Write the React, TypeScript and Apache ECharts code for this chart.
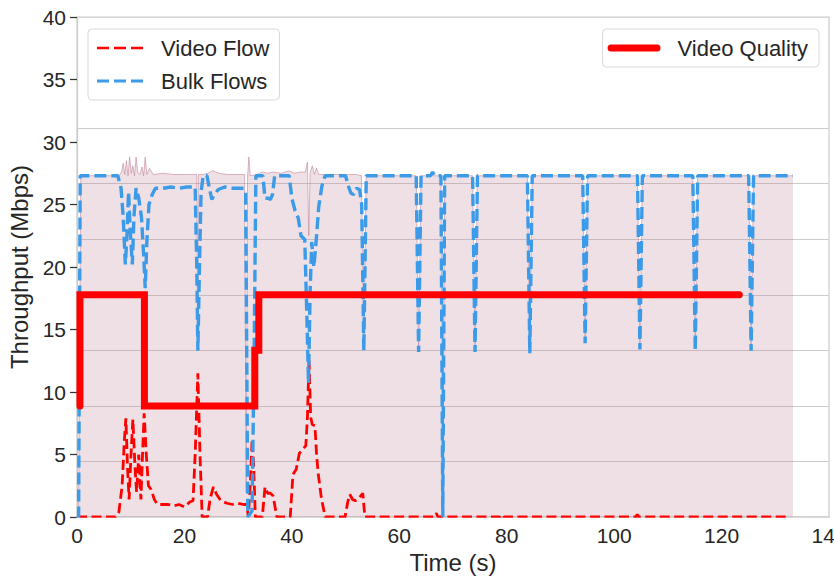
import React, { useEffect, useRef } from 'react';
import * as echarts from 'echarts';

// ---- Data ----
const bulkT = [0, 0.3, 0.6, 7.6, 8.2, 8.6, 9.0, 9.3, 9.6, 9.9, 10.3, 10.6, 11.0, 11.5, 12.0, 12.4, 12.7, 13.0, 13.4, 14.0, 14.6, 16.0, 17.5, 19.0, 20.5, 22.0, 22.3, 22.5, 22.8, 23.1, 23.5, 24.2, 24.6, 25.1, 25.6, 26.3, 27.5, 29.0, 31.0, 31.4, 31.6, 31.8, 32.6, 33.0, 33.3, 34.6, 35.0, 35.6, 36.0, 36.4, 36.8, 39.5, 40.0, 40.6, 41.2, 41.7, 42.4, 42.8, 43.1, 43.4, 43.7, 44.1, 44.6, 45.0, 45.6, 46.2, 50.0, 50.5, 51.0, 51.5, 52.0, 52.6, 53.0, 53.4, 53.85, 63.15, 63.6, 64.05, 65.8, 66.2, 66.6, 67.75, 68.1, 68.45, 73.65, 74.1, 74.55, 83.85, 84.3, 84.75, 94.15, 94.6, 95.05, 104.35, 104.8, 105.25, 114.65, 115.1, 115.55, 125.05, 125.5, 125.95, 133.3];
const bulkV = [0, 0, 27.3, 27.3, 26.3, 24.0, 20.2, 22.5, 26.0, 23.0, 20.2, 24.0, 26.3, 25.5, 24.0, 21.0, 18.3, 22.0, 25.0, 25.8, 26.3, 26.3, 26.4, 26.3, 26.4, 26.4, 20.0, 13.3, 20.0, 26.0, 27.3, 27.3, 26.4, 25.4, 25.8, 26.2, 26.4, 26.3, 26.3, 26.0, 13.0, 0, 0.5, 14.0, 27.3, 27.3, 25.5, 25.5, 25.4, 25.8, 27.3, 27.3, 25.5, 24.5, 23.9, 22.5, 22.2, 16.0, 10.7, 18.0, 22.0, 20.0, 22.5, 24.8, 26.5, 27.3, 27.3, 26.5, 25.9, 25.8, 26.3, 26.2, 25.0, 13.3, 27.3, 27.3, 13.2, 27.3, 27.3, 27.6, 27.3, 27.3, 0, 27.3, 27.3, 13.2, 27.3, 27.3, 13.1, 27.3, 27.3, 13.9, 27.3, 27.3, 13.4, 27.3, 27.3, 13.3, 27.3, 27.3, 13.3, 27.3, 27.3];

const videoT = [0, 7.2, 7.8, 8.4, 8.8, 9.1, 9.4, 9.7, 10.0, 10.4, 10.8, 11.1, 11.5, 11.9, 12.2, 12.5, 12.9, 13.3, 13.8, 14.4, 15, 16, 17, 18, 19, 20, 21, 21.6, 22.0, 22.5, 22.9, 23.3, 24.3, 24.8, 25.4, 26.0, 26.8, 27.9, 29, 30, 31, 31.6, 31.9, 32.3, 32.6, 32.9, 33.2, 34.5, 35.0, 35.5, 36.0, 36.5, 37.2, 39.7, 40.2, 40.8, 41.4, 42.0, 42.6, 42.9, 43.2, 43.5, 43.8, 44.3, 44.6, 44.9, 45.5, 46.2, 49.9, 50.4, 50.8, 51.3, 51.8, 52.5, 53.2, 53.6, 66.5, 66.9, 67.2, 78.8, 79.2, 79.5, 104.0, 104.3, 104.6, 132.2];
const videoV = [0, 0, 0.4, 2.5, 6.0, 7.9, 4.0, 1.4, 4.5, 7.8, 4.0, 2.0, 5.0, 1.4, 5.0, 8.3, 5.0, 2.5, 2.2, 1.4, 1.0, 1.0, 1.0, 0.9, 1.0, 0.8, 1.2, 1.3, 5.0, 11.5, 5.0, 0, 0, 1.5, 2.4, 1.8, 1.3, 1.1, 1.0, 1.1, 1.0, 1.0, 0, 3.0, 6.2, 4.0, 0, 0, 2.4, 1.9, 1.9, 1.7, 0, 0, 3.4, 3.8, 5.1, 5.4, 5.7, 8.0, 12.5, 8.0, 7.4, 7.3, 5.0, 3.5, 1.5, 0, 0, 1.2, 1.8, 1.4, 1.3, 1.5, 1.9, 0, 0, 0.3, 0, 0, 0.2, 0, 0, 0.2, 0, 0];

const totalT = [0, 0.3, 0.7, 7.8, 8.3, 8.6, 8.9, 9.2, 9.5, 9.8, 10.1, 10.4, 10.7, 11.0, 11.3, 11.7, 12.1, 12.4, 12.7, 13.0, 13.5, 14.2, 16.0, 18.0, 20.0, 22.3, 22.45, 22.6, 23.5, 24.4, 25.2, 26.5, 28.0, 31.2, 31.5, 31.75, 32.0, 32.25, 33.5, 34.5, 35.5, 36.5, 38.0, 39.5, 40.5, 41.5, 42.5, 42.9, 43.15, 43.4, 43.8, 44.2, 44.6, 45.0, 46.5, 50.0, 52.0, 52.95, 53.4, 53.85, 63.15, 63.6, 64.05, 67.75, 68.1, 68.45, 73.65, 74.1, 74.55, 83.85, 84.3, 84.75, 94.15, 94.6, 95.05, 104.35, 104.8, 105.25, 114.65, 115.1, 115.55, 125.05, 125.5, 125.95, 133.3];
const totalV = [0, 0, 27.3, 27.3, 27.6, 28.3, 27.4, 28.5, 27.3, 28.8, 27.5, 28.1, 27.3, 28.8, 27.6, 27.4, 28.0, 27.3, 28.8, 27.4, 27.9, 27.4, 27.5, 27.4, 27.4, 27.4, 13.5, 27.4, 27.4, 27.5, 27.7, 27.5, 27.4, 27.4, 2.0, 27.2, 28.8, 27.3, 27.4, 27.6, 27.5, 27.6, 27.5, 27.7, 27.5, 27.6, 27.6, 28.4, 22.5, 27.5, 28.1, 27.4, 27.9, 27.4, 27.4, 27.4, 27.4, 27.3, 13.5, 27.3, 27.3, 13.4, 27.3, 27.3, 0.3, 27.3, 27.3, 13.4, 27.3, 27.3, 13.3, 27.3, 27.3, 14.1, 27.3, 27.3, 13.6, 27.3, 27.3, 13.5, 27.3, 27.3, 13.5, 27.3, 27.3];

const qualityT = [0.55, 0.55, 12.55, 12.55, 33.1, 33.1, 33.85, 33.85, 123.3];
const qualityV = [2, 4, 4, 2, 2, 3, 3, 4, 4];

const yTicks = { min: 0, max: 40, step: 5 };
const xTicks = { min: 0, max: 140, step: 20 };
const qualityAxis = { min: 0, max: 9, step: 1, gridLevels: 8 };

const zip = (t: number[], v: number[]) => t.map((x, i) => [x, v[i]]);

const FONT = '"Liberation Sans", Arial, sans-serif';
const TEXT = '#262626';
const SPINE = '#cccccc';
const BLUE = '#3b9be8';
const RED = '#ff0000';

const GRID = { left: 77, right: 5, top: 17, bottom: 59 };

export default function App() {
  const ref = useRef<HTMLDivElement>(null);
  useEffect(() => {
    if (!ref.current) return;
    const chart = echarts.init(ref.current, undefined, { renderer: 'svg' });
    const splitColors: string[] = [];
    for (let i = 0; i <= qualityAxis.max; i++) splitColors.push(i < qualityAxis.gridLevels ? SPINE : 'rgba(0,0,0,0)');
    const W = 834, H = 576;
    const plotBottom = H - GRID.bottom;
    chart.setOption({
      animation: false,
      backgroundColor: '#ffffff',
      grid: {
        ...GRID, containLabel: false, outerBoundsMode: 'none',
        show: true, borderColor: SPINE, borderWidth: 1.25, backgroundColor: 'rgba(0,0,0,0)',
      },
      // white mask just below the plot so that lines lying on y=0 look half-clipped, as in the reference
      graphic: [
        {
          type: 'rect', silent: true, z: 50,
          shape: { x: GRID.left - 1, y: plotBottom + 0.75, width: W - GRID.left - GRID.right + 2, height: 4 },
          style: { fill: '#ffffff' },
        },
      ],
      xAxis: {
        type: 'value', min: xTicks.min, max: xTicks.max, interval: xTicks.step,
        name: 'Time (s)', nameLocation: 'middle', nameGap: 33,
        nameTextStyle: { fontSize: 24, color: TEXT, fontFamily: FONT },
        axisLine: { show: true, lineStyle: { color: SPINE, width: 1.5 } },
        axisTick: { show: false },
        axisLabel: { fontSize: 21, color: TEXT, fontFamily: FONT, margin: 8, showMaxLabel: true, showMinLabel: true, hideOverlap: false },
        splitLine: { show: false },
      },
      yAxis: [
        {
          type: 'value', min: yTicks.min, max: yTicks.max, interval: yTicks.step,
          name: 'Throughput (Mbps)', nameLocation: 'middle', nameGap: 41, nameRotate: 90,
          nameTextStyle: { fontSize: 24, color: TEXT, fontFamily: FONT },
          axisLine: { show: true, lineStyle: { color: SPINE, width: 1.25 } },
          axisTick: { show: true, length: 7, lineStyle: { color: '#333333', width: 1.25 } },
          axisLabel: { fontSize: 21, color: TEXT, fontFamily: FONT, margin: 11 },
          splitLine: { show: false },
        },
        {
          type: 'value', position: 'right', min: qualityAxis.min, max: qualityAxis.max, interval: qualityAxis.step,
          axisLine: { show: false }, axisTick: { show: false }, axisLabel: { show: false },
          splitLine: { show: true, lineStyle: { color: splitColors, width: 1 } },
        },
      ],
      legend: [
        {
          left: 88, top: 29, orient: 'vertical', selectedMode: false,
          itemWidth: 46, itemHeight: 3, itemGap: 11,
          padding: [8, 10, 8, 9],
          backgroundColor: 'rgba(255,255,255,0.85)', borderColor: '#d9d9d9', borderWidth: 1, borderRadius: 4,
          textStyle: { fontSize: 22, color: TEXT, fontFamily: FONT, padding: [0, 0, 0, 13] },
          data: [
            { name: 'Video Flow', icon: 'path://M0,0h12v2.6h-12z M17,0h12v2.6h-12z M34,0h12v2.6h-12z', itemStyle: { color: RED, borderWidth: 0 } },
            { name: 'Bulk Flows', icon: 'path://M0,0h12v3h-12z M17,0h12v3h-12z M34,0h12v3h-12z', itemStyle: { color: BLUE, borderWidth: 0 } },
          ],
        },
        {
          right: 15, top: 29, orient: 'horizontal', selectedMode: false,
          itemWidth: 53, itemHeight: 7,
          padding: [8, 11, 8, 5],
          backgroundColor: 'rgba(255,255,255,0.85)', borderColor: '#d9d9d9', borderWidth: 1, borderRadius: 4,
          textStyle: { fontSize: 22, color: TEXT, fontFamily: FONT, padding: [0, 0, 0, 12] },
          data: [
            { name: 'Video Quality', icon: 'path://M3.5,0h46a3.5,3.5 0 0 1 0,7h-46a3.5,3.5 0 0 1 0,-7z', itemStyle: { color: RED, borderWidth: 0 } },
          ],
        },
      ],
      series: [
        {
          name: 'Total', type: 'line', data: zip(totalT, totalV), symbol: 'none', silent: true, z: 1,
          lineStyle: { color: 'rgba(185,115,140,0.5)', width: 1 },
          areaStyle: { color: 'rgba(188,125,148,0.34)' },
        },
        {
          name: 'Video Flow', type: 'line', data: zip(videoT, videoV), symbol: 'none', z: 2,
          itemStyle: { color: RED },
          lineStyle: { color: RED, width: 2.8, type: [10, 4.5] },
        },
        {
          name: 'Bulk Flows', type: 'line', data: zip(bulkT, bulkV), symbol: 'none', z: 3,
          itemStyle: { color: BLUE },
          lineStyle: { color: BLUE, width: 3.4, type: [12, 5] },
        },
        {
          name: 'Video Quality', type: 'line', yAxisIndex: 1, data: zip(qualityT, qualityV), symbol: 'none', z: 4,
          itemStyle: { color: RED },
          lineStyle: { color: RED, width: 7, cap: 'round', join: 'miter' },
        },
      ],
    });
    return () => chart.dispose();
  }, []);
  return <div ref={ref} style={{ width: 834, height: 576, position: 'absolute', left: 0, top: 0 }} />;
}
